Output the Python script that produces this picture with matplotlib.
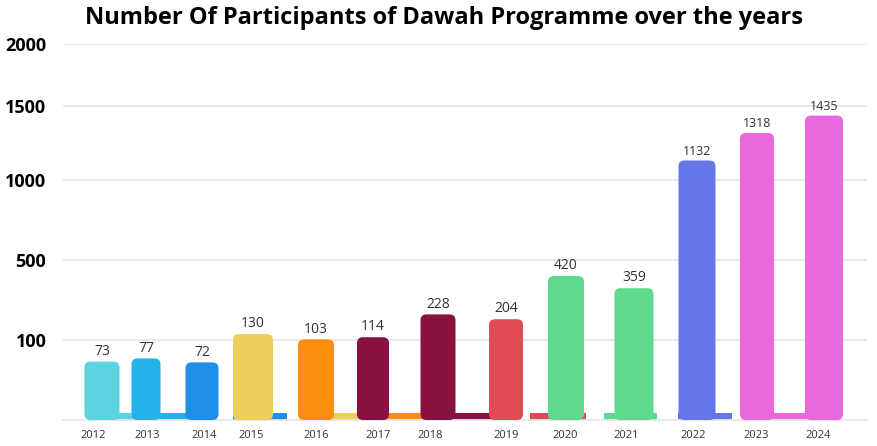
import matplotlib.pyplot as plt
import numpy as np
from matplotlib.patches import FancyBboxPatch
from matplotlib.transforms import IdentityTransform

# data
years = ['2012', '2013', '2014', '2015', '2016', '2017', '2018',
         '2019', '2020', '2021', '2022', '2023', '2024']
participants = [73, 77, 72, 130, 103, 114, 228, 204, 420, 359, 1132, 1318, 1435]
bar_colors = ['#5bd3e0', '#22b4e8', '#1f8fe5', '#eecf5e', '#fb8c0d', '#88113f', '#88113f',
              '#e04a52', '#5ed98e', '#5ed98e', '#6676e8', '#e968dc', '#e968dc']
y_ticks = [100, 500, 1000, 1500, 2000]

# layout (x in pixel-like units, the chart is a hand placed infographic)
bar_x = [102, 146, 202, 253, 316, 373, 438, 506, 566, 634, 697, 757, 824]
bar_w = [35, 29, 33, 40, 36, 32, 35, 34, 36, 39, 37, 34, 38]
label_x = [93, 147, 204, 251, 316, 378, 430, 506, 565, 626, 693, 756, 818]

# flat strips along the base
strip_left = [112, 158, 233, 330, 385, 452, 530, 604, 678, 770]
strip_right = [140, 190, 287, 360, 424, 492, 586, 657, 732, 808]
strip_colors = ['#5bd3e0', '#22b4e8', '#1f8fe5', '#eecf5e', '#fb8c0d', '#88113f',
                '#e04a52', '#5ed98e', '#6676e8', '#e968dc']
strip_h = 9

# uneven value axis: tick values -> pixel height above base
scale_v = [0, 100, 500, 1000, 1500, 2000]
scale_px = [0, 80, 160, 240, 314, 376]


def fwd(v):
    return np.interp(v, scale_v, scale_px)


def inv(p):
    return np.interp(p, scale_px, scale_v)


W, H = 878, 446
fig = plt.figure(figsize=(W / 100, H / 100), dpi=100)
ax = fig.add_axes([63 / W, (H - 420) / H, (867 - 63) / W, 376 / H])
ax.set_yscale('function', functions=(fwd, inv))
ax.set_xlim(63, 867)
ax.set_ylim(0, 2000)

# strips behind the bars
sx = [(l + r) / 2 for l, r in zip(strip_left, strip_right)]
sw = [r - l for l, r in zip(strip_left, strip_right)]
ax.bar(sx, [strip_h] * len(sx), width=sw, color=strip_colors, zorder=2)

# main bars, drawn with rounded corners in display space
bars = ax.bar(bar_x, participants, width=bar_w, color=bar_colors, zorder=3)
r = 6
for b, c in zip(bars, bar_colors):
    bb = b.get_window_extent()
    b.set_visible(False)
    p = FancyBboxPatch((bb.x0, bb.y0), bb.width, bb.height,
                       boxstyle=f'round,pad=0,rounding_size={r}',
                       fc=c, ec='none', transform=IdentityTransform(),
                       zorder=3, clip_on=False)
    ax.add_artist(p)

for x, v in zip(bar_x, participants):
    ax.annotate(str(v), (x, v), xytext=(0, 2), textcoords='offset points',
                ha='center', va='bottom', fontsize=10 if v < 1000 else 9,
                color='#333333', family='Open Sans')

ax.set_yticks(y_ticks)
ax.set_yticklabels([str(t) for t in y_ticks], fontsize=13, fontweight='bold',
                   family='Open Sans')
ax.set_xticks(label_x)
ax.set_xticklabels(years, fontsize=8, color='#333333', family='Open Sans')
ax.tick_params(axis='y', length=0, pad=12)
ax.tick_params(axis='x', length=0, pad=7)
ax.grid(axis='y', color='#e6e6e6', linewidth=1.3)
ax.set_axisbelow(True)
for s in ['top', 'right', 'left']:
    ax.spines[s].set_visible(False)
ax.spines['bottom'].set_color('#e6e6e6')
ax.spines['bottom'].set_linewidth(1.3)

fig.text(444 / W, 1 - 18 / H, 'Number Of Participants of Dawah Programme over the years',
         ha='center', va='center', fontsize=17, fontweight='bold', family='Open Sans')

fig.savefig('out.png', dpi=100)
